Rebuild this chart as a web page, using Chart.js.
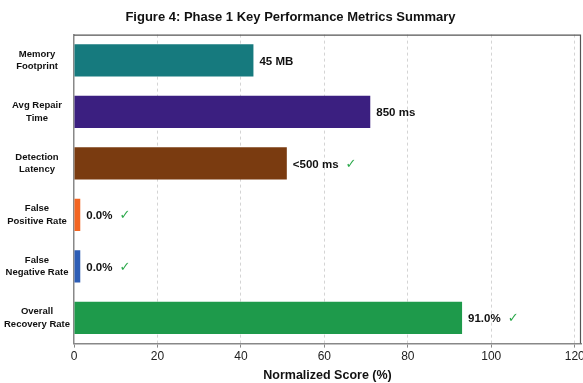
<!DOCTYPE html>
<html>
<head>
<meta charset="utf-8">
<script src="https://cdn.jsdelivr.net/npm/chart.js@4.4.0/dist/chart.umd.min.js"></script>
<style>
    html, body { margin: 0; padding: 0; background: #ffffff; }
    #contenedor { width: 583px; height: 383px; }
</style>
</head>
<body>
<div id="contenedor"><canvas id="graficoMetricas"></canvas></div>
<script>
const metricas = [
    ['Memory', 'Footprint'],
    ['Avg Repair', 'Time'],
    ['Detection', 'Latency'],
    ['False', 'Positive Rate'],
    ['False', 'Negative Rate'],
    ['Overall', 'Recovery Rate']
];
const puntuaciones = [43, 71, 51, 1.5, 1.5, 93];
const etiquetasValor = ['45 MB', '850 ms', '<500 ms', '0.0%', '0.0%', '91.0%'];
const cumpleObjetivo = [false, false, true, true, true, true];
const colores = ['#167a7e', '#3b1f80', '#7a3b10', '#f26522', '#2d5db5', '#1e9a4b'];
const marcasEje = [0, 20, 40, 60, 80, 100, 120];

const fuente = "'Liberation Sans', Arial, sans-serif";

const etiquetasBarras = {
    id: 'etiquetasBarras',
    afterDatasetsDraw(chart) {
        const ctx = chart.ctx;
        const barras = chart.getDatasetMeta(0).data;
        ctx.save();
        ctx.textBaseline = 'middle';
        barras.forEach((barra, i) => {
            let x = barra.x + 6;
            ctx.font = 'bold 11.5px ' + fuente;
            ctx.fillStyle = '#111111';
            ctx.textAlign = 'left';
            ctx.fillText(etiquetasValor[i], x, barra.y + 1);
            if (cumpleObjetivo[i]) {
                x += ctx.measureText(etiquetasValor[i]).width + 7;
                ctx.font = '13px DejaVu Sans';
                ctx.fillStyle = '#2aa84a';
                ctx.fillText('\u2713', x, barra.y + 1);
            }
        });
        ctx.restore();
    }
};

const marco = {
    id: 'marco',
    afterDraw(chart) {
        const area = chart.chartArea;
        const ctx = chart.ctx;
        ctx.save();
        ctx.strokeStyle = '#555555';
        ctx.lineWidth = 1.2;
        ctx.beginPath();
        ctx.moveTo(area.left, area.top + 0.5);
        ctx.lineTo(area.right - 0.5, area.top + 0.5);
        ctx.lineTo(area.right - 0.5, area.bottom);
        ctx.stroke();
        ctx.restore();
    }
};

new Chart(document.querySelector('#graficoMetricas'), {
    type: 'bar',
    data: {
        labels: metricas,
        datasets: [{
            data: puntuaciones,
            backgroundColor: colores,
            borderWidth: 0,
            barPercentage: 0.63,
            categoryPercentage: 1
        }]
    },
    options: {
        indexAxis: 'y',
        responsive: true,
        maintainAspectRatio: false,
        animation: false,
        layout: { padding: { left: 0, right: 2, top: 0, bottom: 0 } },
        plugins: {
            legend: { display: false },
            tooltip: { enabled: false },
            title: {
                display: true,
                text: 'Figure 4: Phase 1 Key Performance Metrics Summary',
                color: '#111111',
                font: { family: fuente, size: 13, weight: 'bold' },
                padding: { top: 10, bottom: 9 }
            }
        },
        scales: {
            x: {
                min: 0,
                max: 121.5,
                afterBuildTicks: (escala) => {
                    escala.ticks = marcasEje.map(v => ({ value: v }));
                },
                afterFit: (escala) => {
                    escala.paddingRight = 0;
                },
                grid: {
                    color: (c) => c.tick && c.tick.value === 0 ? 'rgba(0,0,0,0)' : '#d4d4d4',
                    tickColor: '#888888',
                    tickLength: 4
                },
                border: { display: true, color: '#888888', width: 1.5, dash: [3, 3] },
                ticks: {
                    color: '#222222',
                    font: { family: fuente, size: 12 },
                    padding: 2,
                    maxRotation: 0
                },
                title: {
                    display: true,
                    text: 'Normalized Score (%)',
                    color: '#111111',
                    font: { family: fuente, size: 12.5, weight: 'bold' },
                    padding: { top: 2, bottom: 0 }
                }
            },
            y: {
                grid: { display: false, drawTicks: false },
                border: { display: true, color: '#888888', width: 1.5 },
                ticks: {
                    color: '#111111',
                    crossAlign: 'center',
                    padding: 4,
                    font: { family: fuente, size: 9.5, weight: 'bold', lineHeight: 1.3 }
                }
            }
        }
    },
    plugins: [etiquetasBarras, marco]
});
</script>
</body>
</html>
